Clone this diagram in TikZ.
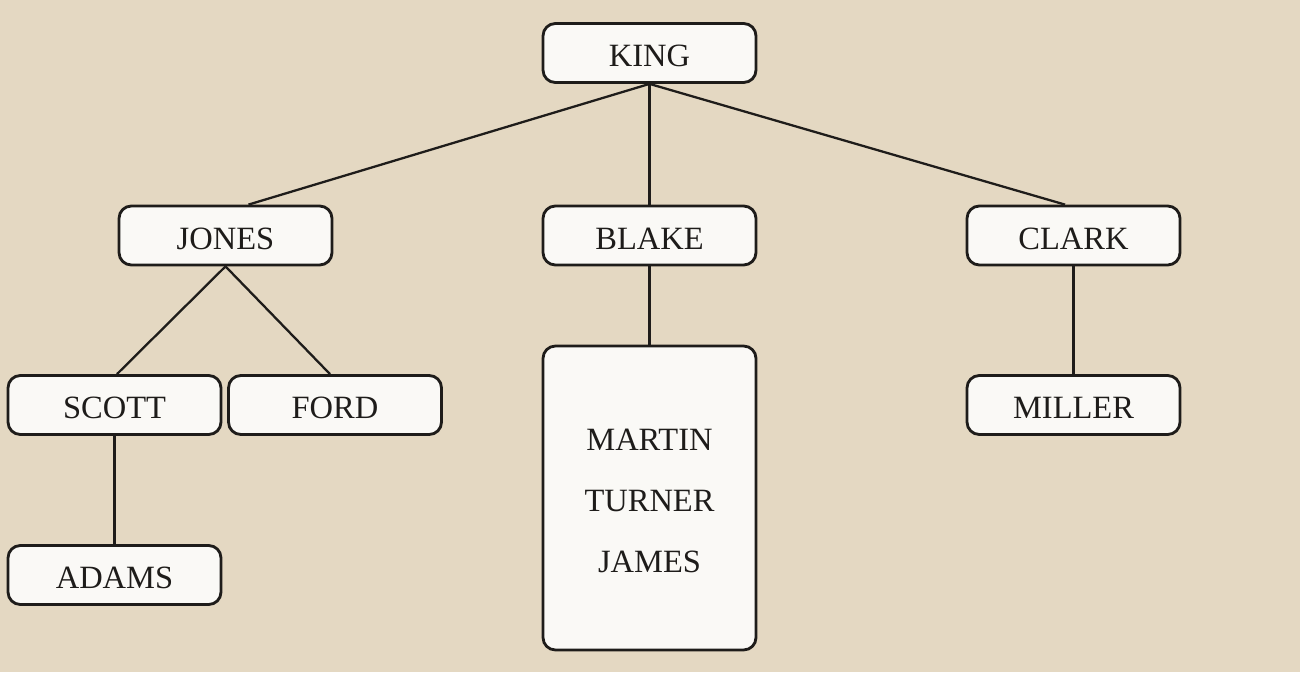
\documentclass[tikz,border=0pt]{standalone}
\usepackage{fontspec}
\setmainfont{Liberation Serif}
\definecolor{paper}{HTML}{E4D8C2}
\definecolor{card}{HTML}{FAF9F6}
\definecolor{ink}{HTML}{1E1C1A}
\tikzset{
  emp/.style={draw=ink, fill=card, line width=1.6pt, rounded corners=7pt,
    minimum width=4.26cm, minimum height=1.18cm, inner sep=0pt,
    text height=0.55cm, text depth=0pt,
    font=\fontsize{18.5}{24}\selectfont, text=ink},
  link/.style={draw=ink, line width=1.3pt}
}
\begin{document}
\begin{tikzpicture}[x=0.02cm, y=-0.02cm]
  % Page
  \fill[paper] (0,0) rectangle (1300,672);
  \useasboundingbox (0,0) rectangle (1300,672);

  % Top of the tree
  \node[emp] (king) at (649.5,53) {KING};

  % Second level
  \node[emp] (jones) at (225.5,235.5) {JONES};
  \node[emp] (blake) at (649.5,235.5) {BLAKE};
  \node[emp] (clark) at (1073.5,235.5) {CLARK};

  % Third level
  \node[emp] (scott) at (114.5,405) {SCOTT};
  \node[emp] (ford) at (335,405) {FORD};
  \node[emp] (miller) at (1073.5,405) {MILLER};
  \node[emp, minimum height=6.08cm, align=center, text height=, text depth=]
    (staff) at (649.5,498)
    {\rule{0pt}{0.55cm}MARTIN\\[0.38cm]TURNER\\[0.38cm]JAMES};

  % Fourth level
  \node[emp] (adams) at (114.5,575) {ADAMS};

  % Connectors
  \draw[link] (king.south) -- ([xshift=0.46cm]jones.north);
  \draw[link] (king.south) -- (blake.north);
  \draw[link] (king.south) -- ([xshift=-0.17cm]clark.north);
  \draw[link] (jones.south) -- ([xshift=0.05cm]scott.north);
  \draw[link] (jones.south) -- ([xshift=-0.1cm]ford.north);
  \draw[link] (scott.south) -- (adams.north);
  \draw[link] (blake.south) -- (staff.north);
  \draw[link] (clark.south) -- (miller.north);

\end{tikzpicture}
\end{document}
